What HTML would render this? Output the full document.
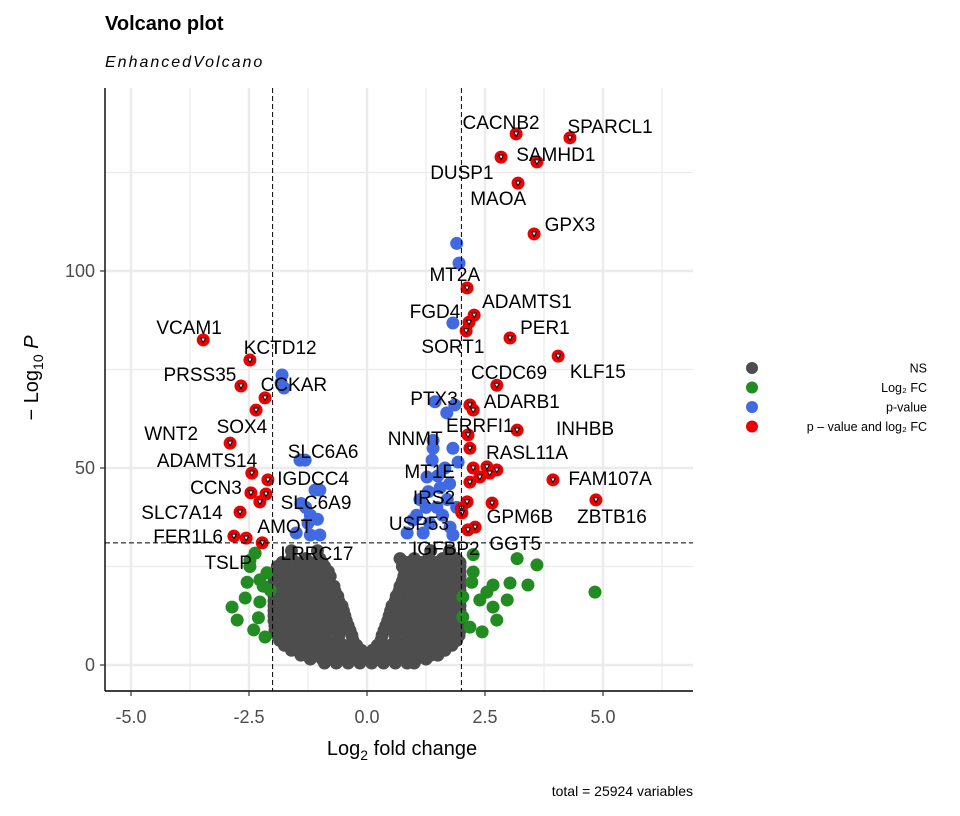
<!DOCTYPE html>
<html><head><meta charset="utf-8">
<style>
body{margin:0;background:#fff;}
svg{display:block;font-family:"Liberation Sans",sans-serif;}
</style></head>
<body>
<svg id="chart" width="960" height="816" viewBox="0 0 960 816" xmlns="http://www.w3.org/2000/svg">
<rect width="960" height="816" fill="#fff"/>
<g id="grid"></g>
<g id="thresholds"></g>
<g id="points"></g>
<g id="labels"></g>
<g id="axes"></g>
<text x="105" y="30" font-size="20" font-weight="bold">Volcano plot</text>
<text x="105" y="67" font-size="16" font-style="italic" letter-spacing="2">EnhancedVolcano</text>
<text x="402" y="755" font-size="20" text-anchor="middle">Log<tspan font-size="14" dy="5">2</tspan><tspan dy="-5"> fold change</tspan></text>
<text transform="translate(38,378) rotate(-90)" font-size="20" text-anchor="middle">− Log<tspan font-size="14" dy="5">10</tspan><tspan dy="-5" font-style="italic"> P</tspan></text>
<text x="693" y="796" font-size="14" text-anchor="end">total = 25924 variables</text>
<g id="legend"></g>
</svg>
<script>
// ---- data ----
const xTicks = [-5, -2.5, 0, 2.5, 5];
const xTickLabels = ["-5.0", "-2.5", "0.0", "2.5", "5.0"];
const xMinor = [-3.75, -1.25, 1.25, 3.75, 6.25];
const yTicks = [0, 50, 100];
const yTickLabels = ["0", "50", "100"];
const yMinor = [25, 75, 125];
const fcCut = 2;
const pCut = 31;

const grayRowsY = [0.5, 2.5, 5, 7.5, 10, 12.5, 15, 17.5, 20, 22.5, 25, 27, 29];
const grayRowsX = [
 [-0.9,-0.65,-0.4,-0.15,0.1,0.35,0.6,0.85,1.0],
 [-1.4,-1.15,-0.9,-0.65,-0.4,-0.15,0.1,0.35,0.6,0.85,1.1,1.35,1.5],
 [-1.75,-1.5,-1.25,-1.0,-0.75,-0.5,-0.22,0.22,0.5,0.75,1.0,1.25,1.5,1.8],
 [-1.9,-1.65,-1.4,-1.15,-0.9,-0.6,-0.32,0.32,0.6,0.9,1.15,1.4,1.65,1.95],
 [-1.95,-1.7,-1.45,-1.2,-0.95,-0.65,-0.4,0.4,0.65,0.95,1.2,1.45,1.7,1.95],
 [-1.97,-1.7,-1.45,-1.2,-0.95,-0.7,-0.47,0.47,0.7,0.95,1.2,1.45,1.7,1.97],
 [-1.97,-1.72,-1.47,-1.22,-0.97,-0.75,-0.53,0.53,0.75,0.97,1.22,1.47,1.72,1.97],
 [-1.97,-1.72,-1.47,-1.22,-0.97,-0.8,-0.62,0.62,0.8,1.0,1.25,1.5,1.75,1.97],
 [-1.97,-1.72,-1.47,-1.22,-0.97,-0.7,0.7,0.97,1.22,1.47,1.72,1.97],
 [-1.95,-1.7,-1.45,-1.2,-0.95,-0.78,0.78,0.97,1.22,1.47,1.72,1.97],
 [-1.9,-1.65,-1.4,-1.15,-0.9,0.75,1.0,1.25,1.5,1.75,1.97],
 [-1.6,-1.3,-1.0,0.7,1.0,1.3,1.6,1.9],
 [-1.6,-1.05,1.35,1.75]
];
const grayRows2Y = [1.5, 3.75, 6.25, 8.75, 11.25, 13.75, 16.25, 18.75, 21.25, 23.75, 26];
const grayRows2X = [
 [-1.2,-0.95,-0.7,-0.45,-0.2,0.05,0.3,0.55,0.8,1.05,1.25],
 [-1.6,-1.35,-1.1,-0.85,-0.6,-0.35,-0.12,0.12,0.35,0.6,0.85,1.1,1.35,1.65],
 [-1.85,-1.6,-1.35,-1.1,-0.85,-0.6,-0.3,0.3,0.6,0.85,1.1,1.35,1.6,1.9],
 [-1.95,-1.8,-1.55,-1.3,-1.05,-0.8,-0.55,-0.36,0.36,0.55,0.8,1.05,1.3,1.55,1.8,1.97],
 [-1.97,-1.85,-1.6,-1.35,-1.1,-0.85,-0.6,-0.44,0.44,0.6,0.85,1.1,1.35,1.6,1.85,1.97],
 [-1.97,-1.85,-1.6,-1.35,-1.1,-0.85,-0.62,-0.5,0.5,0.62,0.85,1.1,1.35,1.6,1.85,1.97],
 [-1.97,-1.85,-1.6,-1.35,-1.1,-0.88,-0.6,0.6,0.88,1.1,1.35,1.6,1.85,1.97],
 [-1.97,-1.85,-1.6,-1.35,-1.1,-0.88,-0.68,0.68,0.88,1.1,1.35,1.6,1.85,1.97],
 [-1.97,-1.85,-1.6,-1.35,-1.1,-0.85,0.75,0.88,1.1,1.35,1.6,1.85,1.97],
 [-1.93,-1.8,-1.55,-1.3,-1.05,-0.82,0.8,1.1,1.35,1.6,1.85,1.97],
 [-1.8,-1.5,-1.2,-0.95,0.85,1.15,1.45,1.75,1.97]
];

const greenX = [-2.37,-2.48,-2.54,-2.2,-2.58,-2.86,-2.27,-2.75,-2.3,-2.4,-2.16,-2.05,-2.12,-2.48,-2.27,
  2.25,3.18,3.6,4.83,3.41,3.03,2.67,2.25,2.22,2.54,2.97,2.03,2.39,2.75,2.03,2.44,2.18,2.67];
const greenY = [28.4,25,21,20,17,14.7,16,11.4,12,8.9,7.1,19,23.4,26.6,21.6,
  28,27,25.4,18.5,20.3,20.8,20.3,23.6,21,18.5,16.5,17.3,16.5,11.4,12.2,8.4,9.6,14.7];

const blueX = [-1.8,-1.82,-1.76,-1.42,-1.31,-1.1,-1.0,-1.3,-1.2,-1.4,-1.25,-1.05,-1.0,-1.2,-1.5,
  1.9,1.95,1.82,1.44,1.69,1.86,1.4,1.82,1.38,1.93,1.27,1.55,1.12,1.48,0.97,1.33,1.76,0.85,1.19,1.82,
  1.5,1.7,1.3,1.6,1.05,1.9,1.4,1.65,1.25,1.75];
const blueY = [73.6,71.6,70.3,52,52,44.4,44.4,40,38,41,36,37,33,33,33.5,
  107,102,86.8,66.8,64,66,55,55,52,51.5,47.7,45,42,40,36.8,36,35,33.5,33.5,33,
  48,42,44,38,38,40,57,50,40,46];

const redX = [3.16,4.3,2.84,3.6,3.2,3.54,2.12,2.27,2.16,2.1,3.03,4.05,2.75,2.18,2.25,3.18,2.14,2.18,
  2.25,2.54,2.75,2.18,2.39,2.6,3.94,4.85,2.65,2.12,2.0,2.01,2.29,2.14,
  -3.47,-2.48,-2.67,-2.16,-2.35,-2.9,-2.44,-2.1,-2.46,-2.14,-2.27,-2.69,-2.82,-2.56,-2.22];
const redY = [134.8,133.8,128.9,127.7,122.3,109.4,95.7,88.8,87,84.8,83,78.4,71,66,64.7,59.6,58.4,55,
  50,50.3,49.5,46.4,47.7,48.7,47,41.9,41.1,41.4,39.8,38.6,35,34.3,
  82.5,77.4,70.8,67.8,64.7,56.3,48.7,47,43.7,43.4,41.4,38.8,32.7,32.2,31];

const labelNames = ["CACNB2","SPARCL1","SAMHD1","DUSP1","MAOA","GPX3","MT2A","ADAMTS1","FGD4","SORT1","PER1","KLF15",
 "CCDC69","PTX3","ADARB1","ERRFI1","INHBB","NNMT","RASL11A","MT1E","FAM107A","IRS2","ZBTB16","GPM6B","USP53","GGT5","IGFBP2",
 "VCAM1","KCTD12","PRSS35","CCKAR","SOX4","WNT2","SLC6A6","ADAMTS14","IGDCC4","CCN3","SLC6A9","SLC7A14","AMOT","FER1L6","TSLP","LRRC17"];
const labelX = [2.84,5.15,4.0,2.01,2.78,4.3,1.86,3.39,1.44,1.82,3.77,4.89,3.01,1.42,3.28,2.39,4.62,1.02,3.39,1.33,5.15,1.42,5.19,3.24,1.1,3.14,1.67,
 -3.77,-1.84,-3.54,-1.55,-2.65,-4.15,-0.93,-3.39,-1.14,-3.2,-1.08,-3.92,-1.74,-3.79,-2.94,-1.06];
const labelY = [137.8,136.8,129.7,125.1,118.5,111.9,99.2,92.4,89.8,81,85.8,74.6,74.4,67.8,67,60.9,60.2,57.6,54.1,49.2,47.5,42.6,37.8,37.8,36,31,29.7,
 85.8,80.7,73.9,71.3,60.7,58.9,54.3,52,47.5,45.2,41.4,38.8,35.3,32.7,26.1,28.4];

// ---- scales ----
const X0 = 367, XS = 47.2, Y0 = 665, YS = 3.94;
const PL = 105, PR = 693, PT = 88, PB = 691;
function sx(v){ return X0 + v*XS; }
function sy(v){ return Y0 - v*YS; }
const NS = "http://www.w3.org/2000/svg";
function mk(tag, attrs, parent){
  const e = document.createElementNS(NS, tag);
  for (const k in attrs) e.setAttribute(k, attrs[k]);
  parent.appendChild(e);
  return e;
}
const grid = document.getElementById('grid');
xMinor.forEach(v => {
  const l = mk('line', {x1:sx(v), x2:sx(v), y1:PT, y2:PB, stroke:'#EBEBEB', 'stroke-width':1.2}, grid);
  
  
});
yMinor.forEach(v => {
  const l = mk('line', {x1:PL, x2:PR, y1:sy(v), y2:sy(v), stroke:'#EBEBEB', 'stroke-width':1.2}, grid);
  
  
});
xTicks.forEach(v => {
  const l = mk('line', {x1:sx(v), x2:sx(v), y1:PT, y2:PB, stroke:'#EBEBEB', 'stroke-width':2.4}, grid);
  
  
});
yTicks.forEach(v => {
  const l = mk('line', {x1:PL, x2:PR, y1:sy(v), y2:sy(v), stroke:'#EBEBEB', 'stroke-width':2.4}, grid);
  
  
});

const pts = document.getElementById('points');
function dot(x, y, fill, name){
  const c = mk('circle', {cx:sx(x), cy:sy(y), r:6.5, fill:fill}, pts);
  
  
}
grayRowsY.forEach((y, i) => grayRowsX[i].forEach(x => dot(x, y, '#4D4D4D', 'ns-point')));
grayRows2Y.forEach((y, i) => grayRows2X[i].forEach(x => dot(x, y, '#4D4D4D', 'ns-point')));
greenX.forEach((x, i) => dot(x, greenY[i], '#228B22', 'log2fc-point'));
blueX.forEach((x, i) => dot(x, blueY[i], '#4169E1', 'pvalue-point'));
redX.forEach((x, i) => dot(x, redY[i], '#EE0000', 'significant-point'));
redX.forEach((x, i) => {
  const cx = sx(x), cy = sy(redY[i]);
  const t = mk('path', {d:`M${cx-2.5},${cy-2} L${cx+2.5},${cy-2} L${cx},${cy+2.5} Z`, fill:'#fff', stroke:'#000', 'stroke-width':1}, pts);
  
  
});

[-fcCut, fcCut].forEach(v => {
  const l = mk('line', {x1:sx(v), x2:sx(v), y1:PT, y2:PB, stroke:'#000', 'stroke-width':1, 'stroke-dasharray':'5,3'}, document.getElementById('labels'));
  
  
});
{
  const l = mk('line', {x1:PL, x2:PR, y1:sy(pCut), y2:sy(pCut), stroke:'#000', 'stroke-width':1, 'stroke-dasharray':'5,3'}, document.getElementById('labels'));
  
  
}

const lab = document.getElementById('labels');
labelNames.forEach((n, i) => {
  const t = mk('text', {x:sx(labelX[i]), y:sy(labelY[i]) + 7, 'font-size':19, 'text-anchor':'middle', fill:'#000'}, lab);
  t.textContent = n;
  
  
});

const ax = document.getElementById('axes');
{
  const a = mk('line', {x1:PL, x2:PL, y1:PT, y2:PB, stroke:'#000', 'stroke-width':1.4}, ax);
  
  
  const b = mk('line', {x1:PL, x2:PR, y1:PB, y2:PB, stroke:'#000', 'stroke-width':1.4}, ax);
  
  
}
xTicks.forEach((v, i) => {
  const l = mk('line', {x1:sx(v), x2:sx(v), y1:PB, y2:PB+5, stroke:'#333', 'stroke-width':1.2}, ax);
  
  
  const t = mk('text', {x:sx(v), y:PB+32, 'font-size':18, 'text-anchor':'middle', fill:'#4D4D4D'}, ax);
  t.textContent = xTickLabels[i];
  
  
});
yTicks.forEach((v, i) => {
  const l = mk('line', {x1:PL-5, x2:PL, y1:sy(v), y2:sy(v), stroke:'#333', 'stroke-width':1.2}, ax);
  
  
  const t = mk('text', {x:PL-10, y:sy(v)+6, 'font-size':18, 'text-anchor':'end', fill:'#4D4D4D'}, ax);
  t.textContent = yTickLabels[i];
  
  
});

const legendColors = ['#4D4D4D', '#228B22', '#4169E1', '#EE0000'];
const legendLabels = ['NS', 'Log₂ FC', 'p-value', 'p – value and log₂ FC'];
const lg = document.getElementById('legend');
legendLabels.forEach((s, i) => {
  const y = 368 + i*19.5;
  const c = mk('circle', {cx:752, cy:y, r:6, fill:legendColors[i]}, lg);
  
  
  const t = mk('text', {x:927, y:y+4.5, 'font-size':12.5, 'text-anchor':'end'}, lg);
  t.textContent = s;
  
  
});
</script>
</body></html>
